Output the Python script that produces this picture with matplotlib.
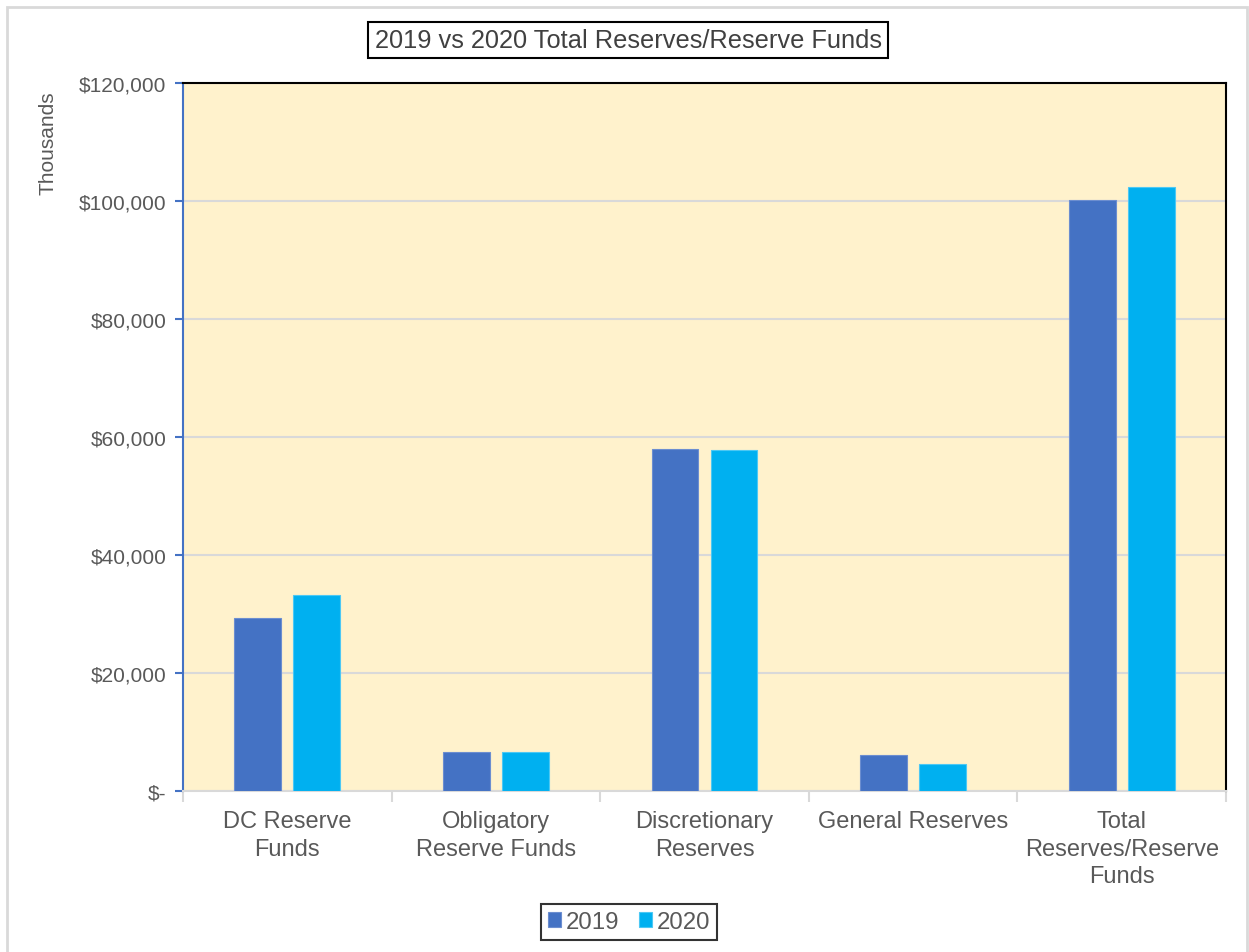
import numpy as np
import matplotlib.pyplot as plt
from matplotlib.patches import Rectangle
from matplotlib.ticker import FuncFormatter

# values (thousands of $)
categories = ['DC Reserve\nFunds', 'Obligatory\nReserve Funds', 'Discretionary\nReserves',
              'General Reserves', 'Total\nReserves/Reserve\nFunds']
values_2019 = [29300, 6600, 58000, 6100, 100100]
values_2020 = [33300, 6600, 57800, 4600, 102300]
series_names = ['2019', '2020']
yticks = [0, 20000, 40000, 60000, 80000, 100000, 120000]

plt.rcParams['font.family'] = ['Liberation Sans', 'DejaVu Sans']
text_col = '#595959'

fig = plt.figure(figsize=(12.49, 9.53), dpi=100)
ax = fig.add_axes([183/1249, 1 - 792/953, (1226 - 183)/1249, (792 - 84)/953])

# outer chart border
fig.patches.append(Rectangle((7/1249, -0.01), (1247 - 7)/1249, 1 - 8/953 + 0.01,
                             transform=fig.transFigure, fill=False,
                             edgecolor='#D9D9D9', linewidth=2))

x = np.arange(len(categories))
w = 0.225
off = 0.1415
ax.bar(x - off, values_2019, w, color='#4472C4', edgecolor='#6C8ED0', linewidth=0.8,
       label=series_names[0], zorder=3)
ax.bar(x + off, values_2020, w, color='#00B0F0', edgecolor='#4CC8F4', linewidth=0.8,
       label=series_names[1], zorder=3)

ax.set_facecolor('#FFF2CC')
ax.set_xlim(-0.5, len(categories) - 0.5)
ax.set_ylim(0, 120000)
ax.set_yticks(yticks)
ax.yaxis.set_major_formatter(FuncFormatter(lambda v, p: '$-' if v == 0 else f'${v:,.0f}'))
ax.grid(axis='y', color='#D9D9D9', linewidth=1.5, zorder=0)

ax.set_xticks(x)
ax.set_xticklabels(categories, linespacing=1.32)
ax.set_xticks(np.arange(-0.5, len(categories)), minor=True)
ax.tick_params(axis='x', which='major', length=0, pad=14, labelsize=17, labelcolor=text_col)
ax.tick_params(axis='x', which='minor', length=8, width=1.5, color='#D9D9D9')
ax.tick_params(axis='y', length=6, width=1.5, color='#4472C4', labelsize=15,
               labelcolor=text_col, pad=6)

for s in ['top', 'right']:
    ax.spines[s].set_color('black')
    ax.spines[s].set_linewidth(1.5)
ax.spines['left'].set_color('#4472C4')
ax.spines['left'].set_linewidth(1.5)
ax.spines['bottom'].set_color('#D9D9D9')
ax.spines['bottom'].set_linewidth(1.5)

fig.text(48/1249, 1 - 143/953, 'Thousands', rotation=90, ha='center', va='center',
         fontsize=15, color=text_col)

fig.text(628/1249, 1 - 41/953, '2019 vs 2020 Total Reserves/Reserve Funds',
         ha='center', va='center', fontsize=18.3, color='#404040',
         bbox=dict(boxstyle='square,pad=0.25', facecolor='white', edgecolor='black', linewidth=1.5))

leg = fig.legend(loc='center', bbox_to_anchor=(629/1249, 1 - 923/953), ncol=2,
                 fontsize=17.3, frameon=True, fancybox=False, handlelength=0.55,
                 handleheight=0.55, handletextpad=0.2, columnspacing=0.8,
                 borderpad=0.3, labelcolor=text_col)
leg.get_frame().set_edgecolor('black')
leg.get_frame().set_linewidth(1.5)

fig.savefig('out.png', dpi=100)
